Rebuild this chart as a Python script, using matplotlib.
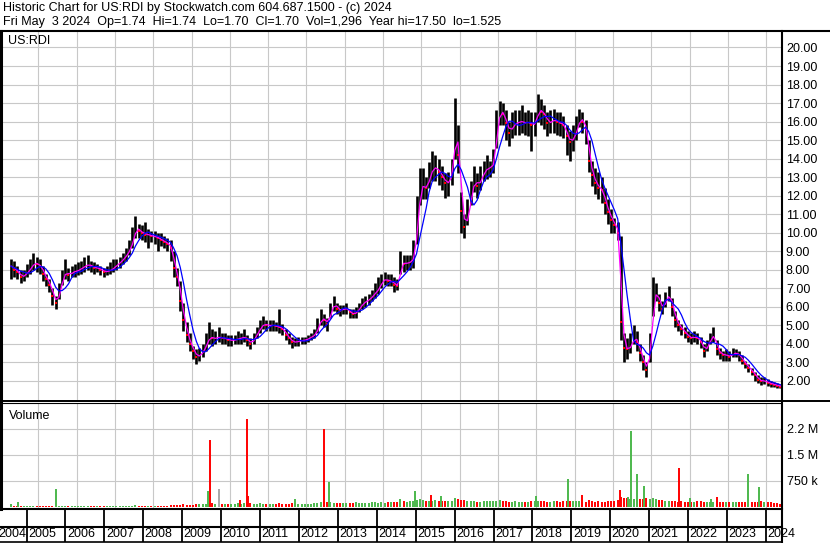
import pandas as pd
import matplotlib
matplotlib.use('Agg')
import matplotlib.pyplot as plt
import matplotlib.dates as mdates
import matplotlib.transforms as mtransforms
from matplotlib.lines import Line2D

plt.rcParams['font.family'] = ['Liberation Sans', 'DejaVu Sans']

# monthly data, Apr 2004 .. May 2024
close = [8.2, 8.0, 7.9, 7.6, 7.7, 7.9, 8.1, 8.4, 8.3,
         8.2, 7.8, 7.5, 7.2, 6.6, 6.2, 6.8, 7.6, 7.9, 7.7, 7.9, 7.9,
         8.0, 8.1, 8.2, 8.3, 8.2, 8.1, 8.1, 8.0, 7.9, 7.9, 8.0, 8.1,
         8.3, 8.4, 8.6, 8.8, 9.1, 9.6, 10.3, 10.1, 10.0, 9.9, 9.9, 9.8,
         9.8, 9.7, 9.6, 9.5, 9.4, 9.2, 8.1, 7.6, 6.3, 5.3, 4.5, 4.0,
         3.6, 3.3, 3.4, 3.6, 4.0, 4.4, 4.3, 4.3, 4.4, 4.3, 4.3, 4.2,
         4.2, 4.2, 4.3, 4.3, 4.4, 4.2, 4.0, 4.3, 4.6, 4.9, 5.1, 5.0,
         5.0, 5.0, 4.95, 4.9, 4.8, 4.5, 4.3, 4.1, 4.1, 4.15, 4.2, 4.2,
         4.3, 4.4, 4.5, 4.9, 5.4, 5.3, 5.1, 5.8, 6.2, 5.9, 5.8, 5.9,
         5.9, 5.7, 5.6, 5.7, 5.95, 6.2, 6.3, 6.4, 6.6, 6.8, 7.0, 7.4,
         7.5, 7.4, 7.4, 7.2, 7.1, 8.4, 8.3, 8.4, 8.4, 8.7, 10.5, 12.5,
         12.5, 12.4, 13.1, 13.5, 13.5, 13.3, 13.0, 12.7, 12.7, 13.3, 15.6, 14.2,
         11.2, 10.3, 11.0, 12.1, 12.9, 12.5, 12.9, 13.3, 13.5, 13.5, 13.8, 15.8,
         16.6, 16.4, 15.9, 15.4, 15.8, 15.9, 16.0, 16.0, 15.9, 16.0, 15.8, 15.9,
         16.7, 16.5, 16.4, 15.9, 16.0, 16.1, 16.0, 15.9, 15.8, 15.2, 14.9, 15.1,
         15.6, 16.2, 16.0, 15.6, 13.9, 13.1, 12.7, 12.4, 12.3, 11.6, 11.1, 10.7,
         10.4, 10.0, 5.2, 3.8, 3.7, 3.9, 4.4, 4.1, 3.5, 3.0, 2.6, 3.8,
         6.5, 6.8, 6.2, 5.9, 6.4, 6.7, 6.0, 5.3, 5.0, 4.8, 4.6, 4.4,
         4.3, 4.4, 4.3, 4.1, 3.6, 3.9, 4.3, 4.5, 3.7, 3.5, 3.4, 3.4,
         3.3, 3.5, 3.5, 3.4, 3.1, 2.9, 2.7, 2.5, 2.3, 2.05, 2.0, 2.0,
         1.9, 1.85, 1.8, 1.75, 1.7]

high = [8.6, 8.5, 8.2, 8.0, 8.0, 8.3, 8.6, 8.9, 8.7,
        8.6, 8.2, 7.8, 7.5, 7.0, 6.6, 7.3, 8.0, 8.6, 8.1, 8.2, 8.3,
        8.4, 8.5, 8.7, 8.8, 8.5, 8.4, 8.3, 8.2, 8.1, 8.2, 8.4, 8.6,
        8.6, 8.7, 8.9, 9.2, 9.6, 10.3, 10.9, 10.5, 10.4, 10.6, 10.2, 10.1,
        10.1, 10.0, 10.0, 9.8, 9.7, 9.6, 9.0, 8.1, 7.4, 6.2, 5.2, 4.6,
        3.9, 3.7, 3.8, 4.0, 4.6, 5.2, 4.8, 4.7, 4.9, 4.6, 4.6, 4.5,
        4.5, 4.5, 4.7, 4.6, 4.8, 4.5, 4.3, 4.6, 4.9, 5.3, 5.5, 5.3,
        5.3, 5.3, 5.2, 5.9, 5.1, 4.8, 4.6, 4.4, 4.3, 4.4, 4.4, 4.4,
        4.5, 4.6, 4.8, 5.4, 5.9, 5.6, 5.4, 6.2, 6.6, 6.2, 6.1, 6.1,
        6.2, 5.9, 5.9, 6.0, 6.2, 6.5, 6.6, 6.7, 6.9, 7.3, 7.6, 7.8,
        7.9, 7.8, 7.8, 7.6, 7.5, 9.0, 8.8, 8.8, 8.8, 9.6, 12.0, 13.5,
        13.5, 13.0, 13.8, 14.4, 14.2, 14.0, 13.6, 13.2, 13.3, 14.0, 17.3, 15.8,
        12.2, 11.0, 11.8, 12.8, 13.6, 13.2, 13.6, 13.9, 14.2, 13.9, 14.5, 16.6,
        17.1, 17.0, 16.6, 16.0, 16.5, 16.6, 16.6, 16.9, 16.5, 16.6, 16.5, 16.5,
        17.5, 17.2, 16.9, 16.5, 16.6, 16.7, 16.5, 16.5, 16.3, 15.8, 15.5, 15.8,
        16.3, 16.7, 16.5, 16.1, 15.0, 13.9, 13.5, 13.3, 13.0, 12.4, 11.8, 11.3,
        10.8, 10.6, 9.8, 4.6, 4.3, 4.6, 5.0, 4.7, 4.0, 3.4, 3.0, 4.6,
        7.6, 7.3, 6.7, 6.3, 6.8, 7.1, 6.5, 5.8, 5.3, 5.1, 4.9, 4.7,
        4.6, 4.7, 4.6, 4.4, 4.0, 4.2, 4.6, 4.9, 4.2, 3.8, 3.6, 3.7,
        3.6, 3.8, 3.7, 3.6, 3.4, 3.1, 2.9, 2.7, 2.5, 2.3, 2.2, 2.2,
        2.1, 2.0, 1.95, 1.9, 1.8]

low = [7.5, 7.6, 7.5, 7.3, 7.4, 7.6, 7.8, 8.0, 7.9,
       7.8, 7.4, 7.1, 6.8, 6.1, 5.9, 6.4, 7.2, 7.5, 7.4, 7.6, 7.6,
       7.7, 7.8, 7.9, 8.0, 7.9, 7.8, 7.9, 7.7, 7.6, 7.7, 7.8, 7.9,
       8.0, 8.1, 8.3, 8.5, 8.8, 9.2, 9.7, 9.7, 9.6, 9.5, 9.2, 9.5,
       9.4, 9.0, 9.3, 9.2, 9.0, 8.5, 7.6, 7.1, 5.8, 4.7, 4.1, 3.6,
       3.2, 2.9, 3.1, 3.3, 3.6, 4.0, 3.9, 4.0, 4.1, 4.0, 4.0, 3.9,
       3.9, 4.0, 4.0, 4.0, 4.1, 3.9, 3.7, 4.0, 4.3, 4.6, 4.8, 4.7,
       4.7, 4.7, 4.7, 4.6, 4.5, 4.2, 4.0, 3.8, 3.9, 3.9, 4.0, 4.0,
       4.1, 4.2, 4.3, 4.6, 5.0, 4.9, 4.7, 5.4, 5.8, 5.6, 5.5, 5.6,
       5.6, 5.4, 5.4, 5.4, 5.7, 5.9, 6.0, 6.1, 6.3, 6.5, 6.7, 7.0,
       7.2, 7.1, 7.1, 6.8, 6.9, 7.8, 7.9, 8.0, 8.0, 8.1, 9.4, 11.5,
       11.8, 11.8, 12.4, 12.8, 12.8, 12.6, 12.3, 11.9, 12.0, 12.6, 14.0, 13.2,
       10.0, 9.7, 10.4, 11.5, 12.2, 11.9, 12.3, 12.8, 12.9, 13.0, 13.2, 14.6,
       15.8, 15.8, 15.0, 14.7, 15.1, 15.3, 15.3, 15.4, 15.3, 15.2, 14.4, 15.2,
       16.0, 15.8, 15.6, 15.2, 15.4, 15.4, 15.3, 15.2, 15.1, 14.2, 13.9, 14.4,
       15.0, 15.7, 15.4, 14.8, 13.3, 12.5, 12.1, 11.8, 11.6, 11.0, 10.5, 10.0,
       10.0, 9.6, 4.2, 3.0, 3.2, 3.5, 4.0, 3.6, 3.1, 2.6, 2.2, 3.0,
       5.5, 6.3, 5.8, 5.6, 6.0, 6.3, 5.5, 4.9, 4.7, 4.5, 4.3, 4.1,
       4.0, 4.1, 4.0, 3.8, 3.3, 3.6, 4.0, 4.1, 3.4, 3.2, 3.1, 3.1,
       3.1, 3.3, 3.3, 3.1, 2.9, 2.7, 2.5, 2.3, 2.0, 1.9, 1.8, 1.85,
       1.75, 1.7, 1.65, 1.6, 1.6]

# typical daily volume per month (thousands)
vol_base = [90, 40, 30, 35, 30, 25, 30, 35, 30,
            30, 35, 30, 40, 30, 30, 35, 30, 30, 25, 30, 30,
            25, 30, 25, 30, 25, 30, 25, 25, 30, 25, 30, 25,
            30, 25, 30, 35, 30, 40, 50, 35, 30, 30, 30, 35,
            40, 35, 30, 40, 35, 45, 60, 50, 70, 80, 60, 70,
            70, 80, 90, 90, 100, 120, 110, 90, 100, 90, 80, 100,
            100, 90, 110, 100, 120, 140, 110, 100, 90, 110, 100, 90,
            90, 100, 100, 110, 90, 90, 100, 120, 90, 90, 100, 90,
            90, 100, 110, 120, 140, 170, 150, 130, 120, 110, 120, 110,
            110, 120, 120, 130, 120, 110, 120, 120, 130, 140, 120, 130,
            120, 130, 150, 130, 140, 190, 160, 150, 160, 170, 200, 230,
            200, 180, 170, 170, 190, 160, 180, 170, 160, 170, 250, 220,
            200, 190, 170, 160, 170, 150, 150, 160, 170, 170, 160, 180,
            190, 170, 160, 150, 150, 160, 150, 140, 150, 150, 160, 170,
            170, 170, 160, 150, 150, 170, 160, 150, 170, 180, 170, 160,
            170, 160, 150, 150, 190, 170, 150, 160, 150, 150, 170, 160,
            170, 190, 300, 250, 270, 240, 220, 200, 220, 220, 250, 240,
            260, 220, 200, 190, 180, 170, 170, 160, 150, 160, 150, 150,
            150, 150, 160, 170, 150, 150, 140, 150, 170, 150, 140, 150,
            140, 150, 150, 140, 130, 150, 150, 140, 150, 150, 160, 150,
            140, 130, 120, 120, 90]

# single-day volume spikes (thousands)
spike_dates = ['2004-06-17', '2005-06-18', '2009-06-06', '2009-06-21', '2009-09-20',
               '2010-04-05', '2010-06-10', '2010-06-25', '2011-09-16', '2012-06-14',
               '2012-08-04', '2014-06-13', '2014-10-30', '2015-03-29', '2015-07-06',
               '2017-12-24', '2018-10-27', '2019-03-15', '2020-03-10', '2020-05-26',
               '2020-06-24', '2020-08-18', '2020-10-27', '2021-09-20', '2022-01-01',
               '2022-07-20', '2022-09-16', '2023-07-13', '2023-10-27']
spike_vols = [150, 520, 460, 1930, 520, 200, 2540, 320, 230, 2250, 730, 230, 460, 350,
              320, 320, 800, 350, 490, 290, 2190, 950, 600, 1120, 260, 230, 290, 950, 580]
spike_cols = ['g', 'g', 'g', 'r', 'k', 'r', 'r', 'r', 'g', 'r', 'g', 'g', 'g', 'r', 'g',
              'g', 'g', 'r', 'r', 'g', 'g', 'g', 'g', 'r', 'g', 'g', 'r', 'g', 'g']

years = list(range(2004, 2025))

GREEN = '#4cb84c'
RED = '#ff0000'
GRAY = '#a8a8a8'
GRID = '#c8c8c8'
col_map = {'g': GREEN, 'r': RED, 'k': GRAY}

dates = pd.date_range('2004-04-01', periods=len(close), freq='MS') + pd.Timedelta(days=14)
s = pd.Series(close)
ma_fast = s.rolling(2, min_periods=1).mean()
ma_slow = s.rolling(5, min_periods=1).mean()
down = s.diff().fillna(0) < 0

W, H = 830, 543
fig = plt.figure(figsize=(W / 100, H / 100), dpi=100)


def box(top, bottom, right=781):
    return [0, 1 - bottom / H, right / W, (bottom - top) / H]


xmin = pd.Timestamp('2004-04-27')
xmax = pd.Timestamp('2024-05-21')
year_ticks = [pd.Timestamp(f'{y}-01-01') for y in years]

# price panel
ax = fig.add_axes(box(31, 401))
ax.vlines(dates, low, high, color='black', lw=1.9)
ax.plot(dates[down], s[down], 's', color=RED, ms=1.6, mew=0)
ax.plot(dates, ma_fast, color='#ff00ff', lw=0.9)
ax.plot(dates, ma_slow, color='#0000ff', lw=0.9)
ax.set_xlim(xmin, xmax)
ax.set_ylim(0.92, 20.89)
ax.set_yticks(range(2, 21))
ax.set_yticklabels([f'{v:.2f}' for v in range(2, 21)])
ax.set_xticks(year_ticks)
ax.yaxis.tick_right()
ax.tick_params(axis='y', length=0, pad=3.5, labelsize=9)
ax.tick_params(axis='x', length=0, labelbottom=False)
ax.grid(True, color=GRID, lw=0.8)
ax.set_axisbelow(True)
for sp in ax.spines.values():
    sp.set_visible(False)
ax.text(0.01, 0.988, 'US:RDI', transform=ax.transAxes, ha='left', va='top', fontsize=9)

# volume panel
axv = fig.add_axes(box(403, 509))
axv.vlines(dates, 0, [v * 1000 for v in vol_base], color=[RED if d else GREEN for d in down], lw=1.4)
axv.vlines(pd.to_datetime(spike_dates), 0, [v * 1000 for v in spike_vols],
           color=[col_map[c] for c in spike_cols], lw=1.4)
axv.set_xlim(xmin, xmax)
axv.set_ylim(-58e3, 3.0e6)
axv.set_yticks([750e3, 1.5e6, 2.25e6])
axv.set_yticklabels(['750 k', '1.5 M', '2.2 M'])
axv.set_xticks(year_ticks)
axv.yaxis.tick_right()
axv.tick_params(axis='y', length=0, pad=4.5, labelsize=9)
axv.tick_params(axis='x', length=0, labelbottom=False)
axv.grid(True, color=GRID, lw=0.8)
axv.set_axisbelow(True)
for sp in axv.spines.values():
    sp.set_visible(False)
axv.text(0.012, 0.93, 'Volume', transform=axv.transAxes, ha='left', va='top', fontsize=9)

# date band
axd = fig.add_axes(box(509, 542))
axd.set_xlim(xmin, xmax)
axd.set_ylim(0, 1)
axd.axis('off')
axd.vlines(year_ticks[1:], 0, 1, color='black', lw=1.3)
shift = mtransforms.offset_copy(axd.transData, fig=fig, x=1.5, y=0, units='dots')
for y, t in zip(years[1:], year_ticks[1:]):
    axd.text(t, 0.24, str(y), transform=shift, ha='left', va='center', fontsize=9, clip_on=False)
axd.text(-0.002, 0.24, '2004', transform=axd.transAxes, ha='left', va='center', fontsize=9)


# frame lines in pixel coordinates
def hline(y, x0, x1, lw):
    fig.add_artist(Line2D([x0 / W, x1 / W], [1 - y / H, 1 - y / H], color='black', lw=lw))


def vline(x, y0, y1, lw):
    fig.add_artist(Line2D([x / W, x / W], [1 - y0 / H, 1 - y1 / H], color='black', lw=lw))


hline(31, 0, W, 1.5)
hline(400.8, 0, W, 1.4)
hline(403.3, 0, 781, 0.8)
hline(509, 0, 782, 1.5)
hline(527, 0, 782, 1.5)
hline(542, 0, 782, 1.2)
vline(781.5, 31, H, 1.5)
vline(1, 31, 509, 2.2)

fig.text(3 / W, 1 - 8 / H, 'Historic Chart for US:RDI by Stockwatch.com 604.687.1500 - (c) 2024',
         ha='left', va='center', fontsize=9)
fig.text(3 / W, 1 - 22 / H,
         'Fri May  3 2024  Op=1.74  Hi=1.74  Lo=1.70  Cl=1.70  Vol=1,296  Year hi=17.50  lo=1.525',
         ha='left', va='center', fontsize=9)

fig.savefig('out.png', dpi=100)
